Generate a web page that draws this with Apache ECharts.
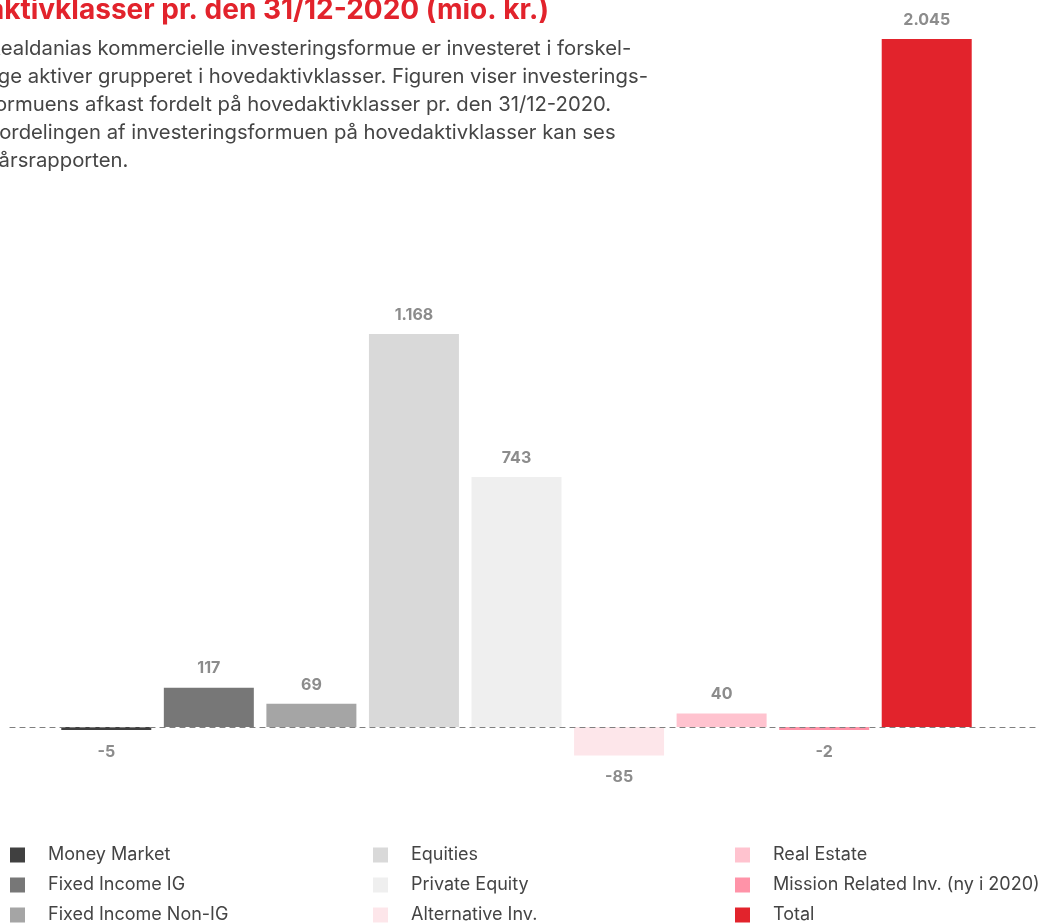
<!DOCTYPE html>
<html>
<head>
<meta charset="utf-8">
<script src="https://cdn.jsdelivr.net/npm/echarts@6/dist/echarts.min.js"></script>
<style>
html,body{margin:0;padding:0;background:#fff;}
#c{width:1039px;height:924px;}
</style>
</head>
<body>
<div id="c"></div>
<script>
var categories = ['Money Market','Fixed Income IG','Fixed Income Non-IG','Equities','Private Equity','Alternative Inv.','Real Estate','Mission Related Inv. (ny i 2020)','Total'];
var values = [-5, 117, 69, 1168, 743, -85, 40, -2, 2045];
var colors = ['#404040','#777777','#a5a5a5','#d9d9d9','#efefef','#fde6ea','#ffc3cf','#ff93a8','#e2232c'];
var titleText = 'aktivklasser pr. den 31/12-2020 (mio. kr.)';
var bodyLines = [
  'Realdanias kommercielle investeringsformue er investeret i forskel-',
  'lige aktiver grupperet i hovedaktivklasser. Figuren viser investerings-',
  'formuens afkast fordelt på hovedaktivklasser pr. den 31/12-2020.',
  'Fordelingen af investeringsformuen på hovedaktivklasser kan ses',
  'i årsrapporten.'
];

function fmt(v){
  var s = Math.abs(v).toString().replace(/\B(?=(\d{3})+(?!\d))/g, '.');
  return (v < 0 ? '-' : '') + s;
}

var FONT = 'Inter, "Noto Sans", sans-serif';
var series = categories.map(function(name, i){
  var data = categories.map(function(_, j){
    if (j !== i) return null;
    var v = values[j];
    return {
      value: v,
      label: {
        show: true,
        position: v < 0 ? 'bottom' : 'top',
        distance: v < 0 ? 14 : 11,
        formatter: function(p){ return fmt(p.value); },
        color: '#8c8c8c',
        fontWeight: 'bold',
        fontSize: 16,
        fontFamily: FONT
      }
    };
  });
  return {
    name: name,
    type: 'bar',
    stack: 'all',
    barWidth: 90,
    barMinHeight: 3,
    xAxisIndex: 0,
    yAxisIndex: 0,
    itemStyle: { color: colors[i] },
    data: data,
    z: 2
  };
});

var colLeft = [10, 373, 735];
var rowTop = [846, 876, 906];
var legends = categories.map(function(name, i){
  return {
    orient: 'vertical',
    left: colLeft[Math.floor(i / 3)],
    top: rowTop[i % 3],
    padding: 0,
    itemWidth: 15,
    itemHeight: 15,
    icon: 'rect',
    selectedMode: false,
    data: [name],
    textStyle: {
      fontSize: 18,
      lineHeight: 16,
      color: '#444444',
      fontFamily: FONT,
      padding: [0, 0, 0, 18]
    }
  };
});

var chart = echarts.init(document.getElementById('c'));
chart.setOption({
  animation: false,
  backgroundColor: '#ffffff',
  grid: [
    { left: 55, right: 61, top: 20.5, bottom: 129.7 },
    { left: 10, right: 0, top: 20.5, bottom: 129.7 }
  ],
  xAxis: [
    { type: 'category', gridIndex: 0, data: categories, axisLine: { show: false }, axisTick: { show: false }, axisLabel: { show: false } },
    { type: 'value', gridIndex: 1, min: 0, max: 1, axisLine: { show: true, onZero: true, lineStyle: { color: '#808080', width: 1.2, type: [5, 5] } }, axisTick: { show: false }, axisLabel: { show: false }, splitLine: { show: false }, z: 5 }
  ],
  yAxis: [
    { type: 'value', gridIndex: 0, min: -200, max: 2100, show: false, splitLine: { show: false } },
    { type: 'value', gridIndex: 1, min: -200, max: 2100, show: false, splitLine: { show: false } }
  ],
  legend: legends,
  graphic: [
    {
      type: 'text',
      right: 1039 - 549,
      top: -3,
      style: {
        text: titleText,
        fill: '#e2232c',
        font: 'bold 28px ' + FONT,
        textAlign: 'right'
      }
    },
    {
      type: 'text',
      left: -12,
      top: 35,
      style: {
        text: bodyLines.join('\n'),
        fill: '#454545',
        font: '20.3px ' + FONT,
        lineHeight: 28
      }
    }
  ],
  series: series
});
</script>
</body>
</html>
